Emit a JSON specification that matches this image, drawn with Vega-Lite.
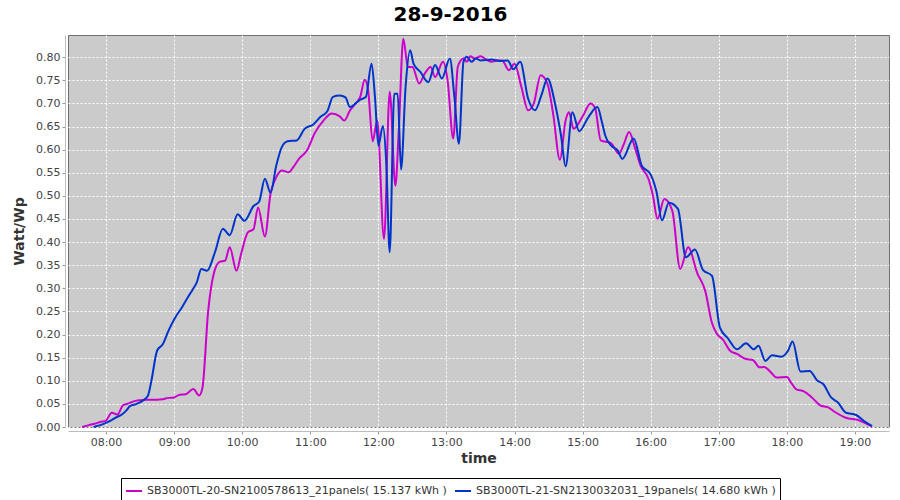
{
  "$schema": "https://vega.github.io/schema/vega-lite/v6.json",
  "width": 821,
  "height": 392,
  "autosize": "none",
  "padding": {"left": 68, "top": 35, "right": 11, "bottom": 73},
  "background": "white",
  "title": {"text": "28-9-2016", "font": "DejaVu Sans", "fontSize": 20, "fontWeight": "bold", "color": "black", "offset": 10, "dx": -28},
  "datasets": {
    "m": [
      {"t": "07:39", "v": 0.000}, {"t": "07:45", "v": 0.004}, {"t": "07:50", "v": 0.007}, {"t": "07:55", "v": 0.011},
      {"t": "08:00", "v": 0.014}, {"t": "08:05", "v": 0.031}, {"t": "08:10", "v": 0.027}, {"t": "08:15", "v": 0.047},
      {"t": "08:20", "v": 0.051}, {"t": "08:25", "v": 0.056}, {"t": "08:30", "v": 0.058}, {"t": "08:35", "v": 0.059},
      {"t": "08:40", "v": 0.059}, {"t": "08:45", "v": 0.059}, {"t": "08:50", "v": 0.060}, {"t": "08:55", "v": 0.063},
      {"t": "09:00", "v": 0.064}, {"t": "09:05", "v": 0.070}, {"t": "09:10", "v": 0.071}, {"t": "09:17", "v": 0.082},
      {"t": "09:22", "v": 0.068}, {"t": "09:25", "v": 0.085}, {"t": "09:30", "v": 0.250}, {"t": "09:35", "v": 0.332},
      {"t": "09:40", "v": 0.357}, {"t": "09:45", "v": 0.360}, {"t": "09:49", "v": 0.389}, {"t": "09:55", "v": 0.338},
      {"t": "09:59", "v": 0.374}, {"t": "10:05", "v": 0.421}, {"t": "10:10", "v": 0.428}, {"t": "10:14", "v": 0.475},
      {"t": "10:20", "v": 0.412}, {"t": "10:25", "v": 0.505}, {"t": "10:29", "v": 0.535}, {"t": "10:35", "v": 0.555},
      {"t": "10:41", "v": 0.551}, {"t": "10:45", "v": 0.562}, {"t": "10:50", "v": 0.580}, {"t": "10:57", "v": 0.598},
      {"t": "11:04", "v": 0.636}, {"t": "11:12", "v": 0.664}, {"t": "11:19", "v": 0.678}, {"t": "11:26", "v": 0.672},
      {"t": "11:30", "v": 0.663}, {"t": "11:35", "v": 0.685}, {"t": "11:40", "v": 0.700}, {"t": "11:44", "v": 0.714},
      {"t": "11:48", "v": 0.751}, {"t": "11:51", "v": 0.728}, {"t": "11:55", "v": 0.618}, {"t": "11:59", "v": 0.663},
      {"t": "12:05", "v": 0.407}, {"t": "12:10", "v": 0.725}, {"t": "12:15", "v": 0.522}, {"t": "12:18", "v": 0.642},
      {"t": "12:22", "v": 0.840}, {"t": "12:26", "v": 0.779}, {"t": "12:30", "v": 0.779}, {"t": "12:36", "v": 0.743},
      {"t": "12:41", "v": 0.765}, {"t": "12:46", "v": 0.779}, {"t": "12:50", "v": 0.757}, {"t": "12:57", "v": 0.790},
      {"t": "13:01", "v": 0.750}, {"t": "13:06", "v": 0.624}, {"t": "13:10", "v": 0.779}, {"t": "13:15", "v": 0.797},
      {"t": "13:18", "v": 0.790}, {"t": "13:21", "v": 0.802}, {"t": "13:25", "v": 0.797}, {"t": "13:30", "v": 0.802},
      {"t": "13:35", "v": 0.795}, {"t": "13:40", "v": 0.790}, {"t": "13:45", "v": 0.793}, {"t": "13:49", "v": 0.793},
      {"t": "13:55", "v": 0.772}, {"t": "14:00", "v": 0.786}, {"t": "14:06", "v": 0.736}, {"t": "14:12", "v": 0.685},
      {"t": "14:17", "v": 0.700}, {"t": "14:23", "v": 0.761}, {"t": "14:29", "v": 0.743}, {"t": "14:34", "v": 0.678},
      {"t": "14:40", "v": 0.578}, {"t": "14:45", "v": 0.663}, {"t": "14:48", "v": 0.681}, {"t": "14:52", "v": 0.645},
      {"t": "15:00", "v": 0.672}, {"t": "15:07", "v": 0.700}, {"t": "15:11", "v": 0.690}, {"t": "15:16", "v": 0.620},
      {"t": "15:25", "v": 0.614}, {"t": "15:32", "v": 0.591}, {"t": "15:36", "v": 0.610}, {"t": "15:41", "v": 0.638},
      {"t": "15:46", "v": 0.605}, {"t": "15:51", "v": 0.566}, {"t": "15:58", "v": 0.537}, {"t": "16:02", "v": 0.500},
      {"t": "16:06", "v": 0.450}, {"t": "16:12", "v": 0.493}, {"t": "16:19", "v": 0.468}, {"t": "16:26", "v": 0.342},
      {"t": "16:33", "v": 0.389}, {"t": "16:41", "v": 0.333}, {"t": "16:48", "v": 0.295}, {"t": "16:54", "v": 0.225},
      {"t": "16:58", "v": 0.203}, {"t": "17:04", "v": 0.188}, {"t": "17:10", "v": 0.165}, {"t": "17:16", "v": 0.158},
      {"t": "17:24", "v": 0.147}, {"t": "17:30", "v": 0.145}, {"t": "17:36", "v": 0.129}, {"t": "17:40", "v": 0.130},
      {"t": "17:46", "v": 0.118}, {"t": "17:51", "v": 0.107}, {"t": "18:00", "v": 0.108}, {"t": "18:04", "v": 0.095},
      {"t": "18:08", "v": 0.082}, {"t": "18:15", "v": 0.077}, {"t": "18:22", "v": 0.064}, {"t": "18:30", "v": 0.046},
      {"t": "18:36", "v": 0.043}, {"t": "18:42", "v": 0.033}, {"t": "18:52", "v": 0.020}, {"t": "19:03", "v": 0.015},
      {"t": "19:11", "v": 0.006}, {"t": "19:15", "v": 0.002}
    ],
    "b": [
      {"t": "07:49", "v": 0.000}, {"t": "07:55", "v": 0.004}, {"t": "08:00", "v": 0.009}, {"t": "08:05", "v": 0.015},
      {"t": "08:09", "v": 0.021}, {"t": "08:14", "v": 0.027}, {"t": "08:18", "v": 0.036}, {"t": "08:21", "v": 0.045},
      {"t": "08:27", "v": 0.050}, {"t": "08:33", "v": 0.058}, {"t": "08:37", "v": 0.068}, {"t": "08:40", "v": 0.100},
      {"t": "08:45", "v": 0.165}, {"t": "08:50", "v": 0.179}, {"t": "08:55", "v": 0.208}, {"t": "09:01", "v": 0.237},
      {"t": "09:07", "v": 0.259}, {"t": "09:12", "v": 0.280}, {"t": "09:16", "v": 0.296}, {"t": "09:20", "v": 0.313},
      {"t": "09:24", "v": 0.342}, {"t": "09:29", "v": 0.338}, {"t": "09:36", "v": 0.378}, {"t": "09:43", "v": 0.429},
      {"t": "09:49", "v": 0.415}, {"t": "09:56", "v": 0.460}, {"t": "10:02", "v": 0.446}, {"t": "10:10", "v": 0.478},
      {"t": "10:15", "v": 0.488}, {"t": "10:20", "v": 0.537}, {"t": "10:25", "v": 0.507}, {"t": "10:30", "v": 0.565},
      {"t": "10:35", "v": 0.606}, {"t": "10:40", "v": 0.618}, {"t": "10:48", "v": 0.620}, {"t": "10:55", "v": 0.645},
      {"t": "11:03", "v": 0.655}, {"t": "11:09", "v": 0.671}, {"t": "11:15", "v": 0.683}, {"t": "11:20", "v": 0.714},
      {"t": "11:26", "v": 0.717}, {"t": "11:31", "v": 0.713}, {"t": "11:35", "v": 0.692}, {"t": "11:40", "v": 0.700},
      {"t": "11:44", "v": 0.708}, {"t": "11:49", "v": 0.714}, {"t": "11:54", "v": 0.786}, {"t": "11:57", "v": 0.714},
      {"t": "12:00", "v": 0.609}, {"t": "12:04", "v": 0.651}, {"t": "12:07", "v": 0.570}, {"t": "12:10", "v": 0.378},
      {"t": "12:14", "v": 0.721}, {"t": "12:17", "v": 0.721}, {"t": "12:20", "v": 0.557}, {"t": "12:24", "v": 0.736},
      {"t": "12:28", "v": 0.815}, {"t": "12:31", "v": 0.786}, {"t": "12:37", "v": 0.768}, {"t": "12:44", "v": 0.746},
      {"t": "12:50", "v": 0.783}, {"t": "12:56", "v": 0.754}, {"t": "13:03", "v": 0.797}, {"t": "13:07", "v": 0.714},
      {"t": "13:11", "v": 0.613}, {"t": "13:15", "v": 0.790}, {"t": "13:18", "v": 0.801}, {"t": "13:22", "v": 0.790},
      {"t": "13:26", "v": 0.797}, {"t": "13:30", "v": 0.793}, {"t": "13:40", "v": 0.795}, {"t": "13:47", "v": 0.792},
      {"t": "13:54", "v": 0.793}, {"t": "13:59", "v": 0.774}, {"t": "14:05", "v": 0.790}, {"t": "14:12", "v": 0.710},
      {"t": "14:18", "v": 0.685}, {"t": "14:24", "v": 0.720}, {"t": "14:29", "v": 0.754}, {"t": "14:36", "v": 0.696},
      {"t": "14:41", "v": 0.630}, {"t": "14:45", "v": 0.564}, {"t": "14:51", "v": 0.681}, {"t": "14:57", "v": 0.640},
      {"t": "15:05", "v": 0.670}, {"t": "15:13", "v": 0.692}, {"t": "15:17", "v": 0.660}, {"t": "15:20", "v": 0.630},
      {"t": "15:25", "v": 0.609}, {"t": "15:31", "v": 0.598}, {"t": "15:35", "v": 0.580}, {"t": "15:45", "v": 0.624},
      {"t": "15:52", "v": 0.566}, {"t": "16:00", "v": 0.546}, {"t": "16:05", "v": 0.510}, {"t": "16:10", "v": 0.447},
      {"t": "16:16", "v": 0.485}, {"t": "16:24", "v": 0.472}, {"t": "16:31", "v": 0.367}, {"t": "16:39", "v": 0.384},
      {"t": "16:46", "v": 0.340}, {"t": "16:54", "v": 0.327}, {"t": "17:01", "v": 0.215}, {"t": "17:08", "v": 0.192},
      {"t": "17:16", "v": 0.168}, {"t": "17:24", "v": 0.181}, {"t": "17:31", "v": 0.168}, {"t": "17:35", "v": 0.176},
      {"t": "17:41", "v": 0.143}, {"t": "17:47", "v": 0.155}, {"t": "17:55", "v": 0.152}, {"t": "18:01", "v": 0.165},
      {"t": "18:05", "v": 0.185}, {"t": "18:12", "v": 0.120}, {"t": "18:20", "v": 0.121}, {"t": "18:27", "v": 0.100},
      {"t": "18:32", "v": 0.093}, {"t": "18:39", "v": 0.064}, {"t": "18:45", "v": 0.053}, {"t": "18:52", "v": 0.031},
      {"t": "19:01", "v": 0.026}, {"t": "19:08", "v": 0.013}, {"t": "19:15", "v": 0.002}
    ]
  },
  "encoding": {
    "x": {
      "field": "t", "type": "temporal", "title": "time",
      "scale": {"domain": [
        {"year": 1900, "month": 1, "date": 1, "hours": 7, "minutes": 26, "seconds": 30},
        {"year": 1900, "month": 1, "date": 1, "hours": 19, "minutes": 30}
      ]},
      "axis": {"format": "%H:%M", "tickCount": 12, "offset": 4}
    },
    "y": {
      "field": "v", "type": "quantitative", "title": "Watt/Wp",
      "scale": {"domain": [0, 0.848], "nice": false},
      "axis": {"format": ".2f", "tickCount": 17, "offset": 3, "titlePadding": 9}
    }
  },
  "layer": [
    {
      "data": {"name": "m", "format": {"parse": {"t": "date:'%H:%M'"}}},
      "mark": {"type": "line", "strokeWidth": 2, "interpolate": "monotone"},
      "encoding": {
        "color": {
          "datum": "SB3000TL-20-SN2100578613_21panels( 15.137 kWh )", "type": "nominal",
          "scale": {
            "domain": ["SB3000TL-20-SN2100578613_21panels( 15.137 kWh )", "SB3000TL-21-SN2130032031_19panels( 14.680 kWh )"],
            "range": ["#cc00cc", "#0033cc"]
          },
          "legend": {
            "title": null, "orient": "none", "legendX": 53, "legendY": 443, "direction": "horizontal", "columns": 2,
            "strokeColor": "black", "padding": 4, "symbolType": "stroke", "symbolSize": 256, "symbolStrokeWidth": 2,
            "labelFont": "DejaVu Sans", "labelFontSize": 11, "labelColor": "#333", "columnPadding": 4, "labelLimit": 0
          }
        }
      }
    },
    {
      "data": {"name": "b", "format": {"parse": {"t": "date:'%H:%M'"}}},
      "mark": {"type": "line", "strokeWidth": 2, "interpolate": "monotone"},
      "encoding": {
        "color": {"datum": "SB3000TL-21-SN2130032031_19panels( 14.680 kWh )", "type": "nominal"}
      }
    }
  ],
  "config": {
    "view": {"fill": "#cbcbcb", "stroke": "#707070", "strokeWidth": 1},
    "axis": {
      "grid": true, "gridColor": "white", "gridDash": [2, 2], "gridWidth": 1, "gridOpacity": 1,
      "domainColor": "#bdbdbd", "tickColor": "#999", "tickSize": 3,
      "labelFont": "DejaVu Sans", "labelFontSize": 11, "labelColor": "#444",
      "titleFont": "DejaVu Sans", "titleFontSize": 14, "titleFontWeight": "bold", "titleColor": "#333"
    }
  }
}
